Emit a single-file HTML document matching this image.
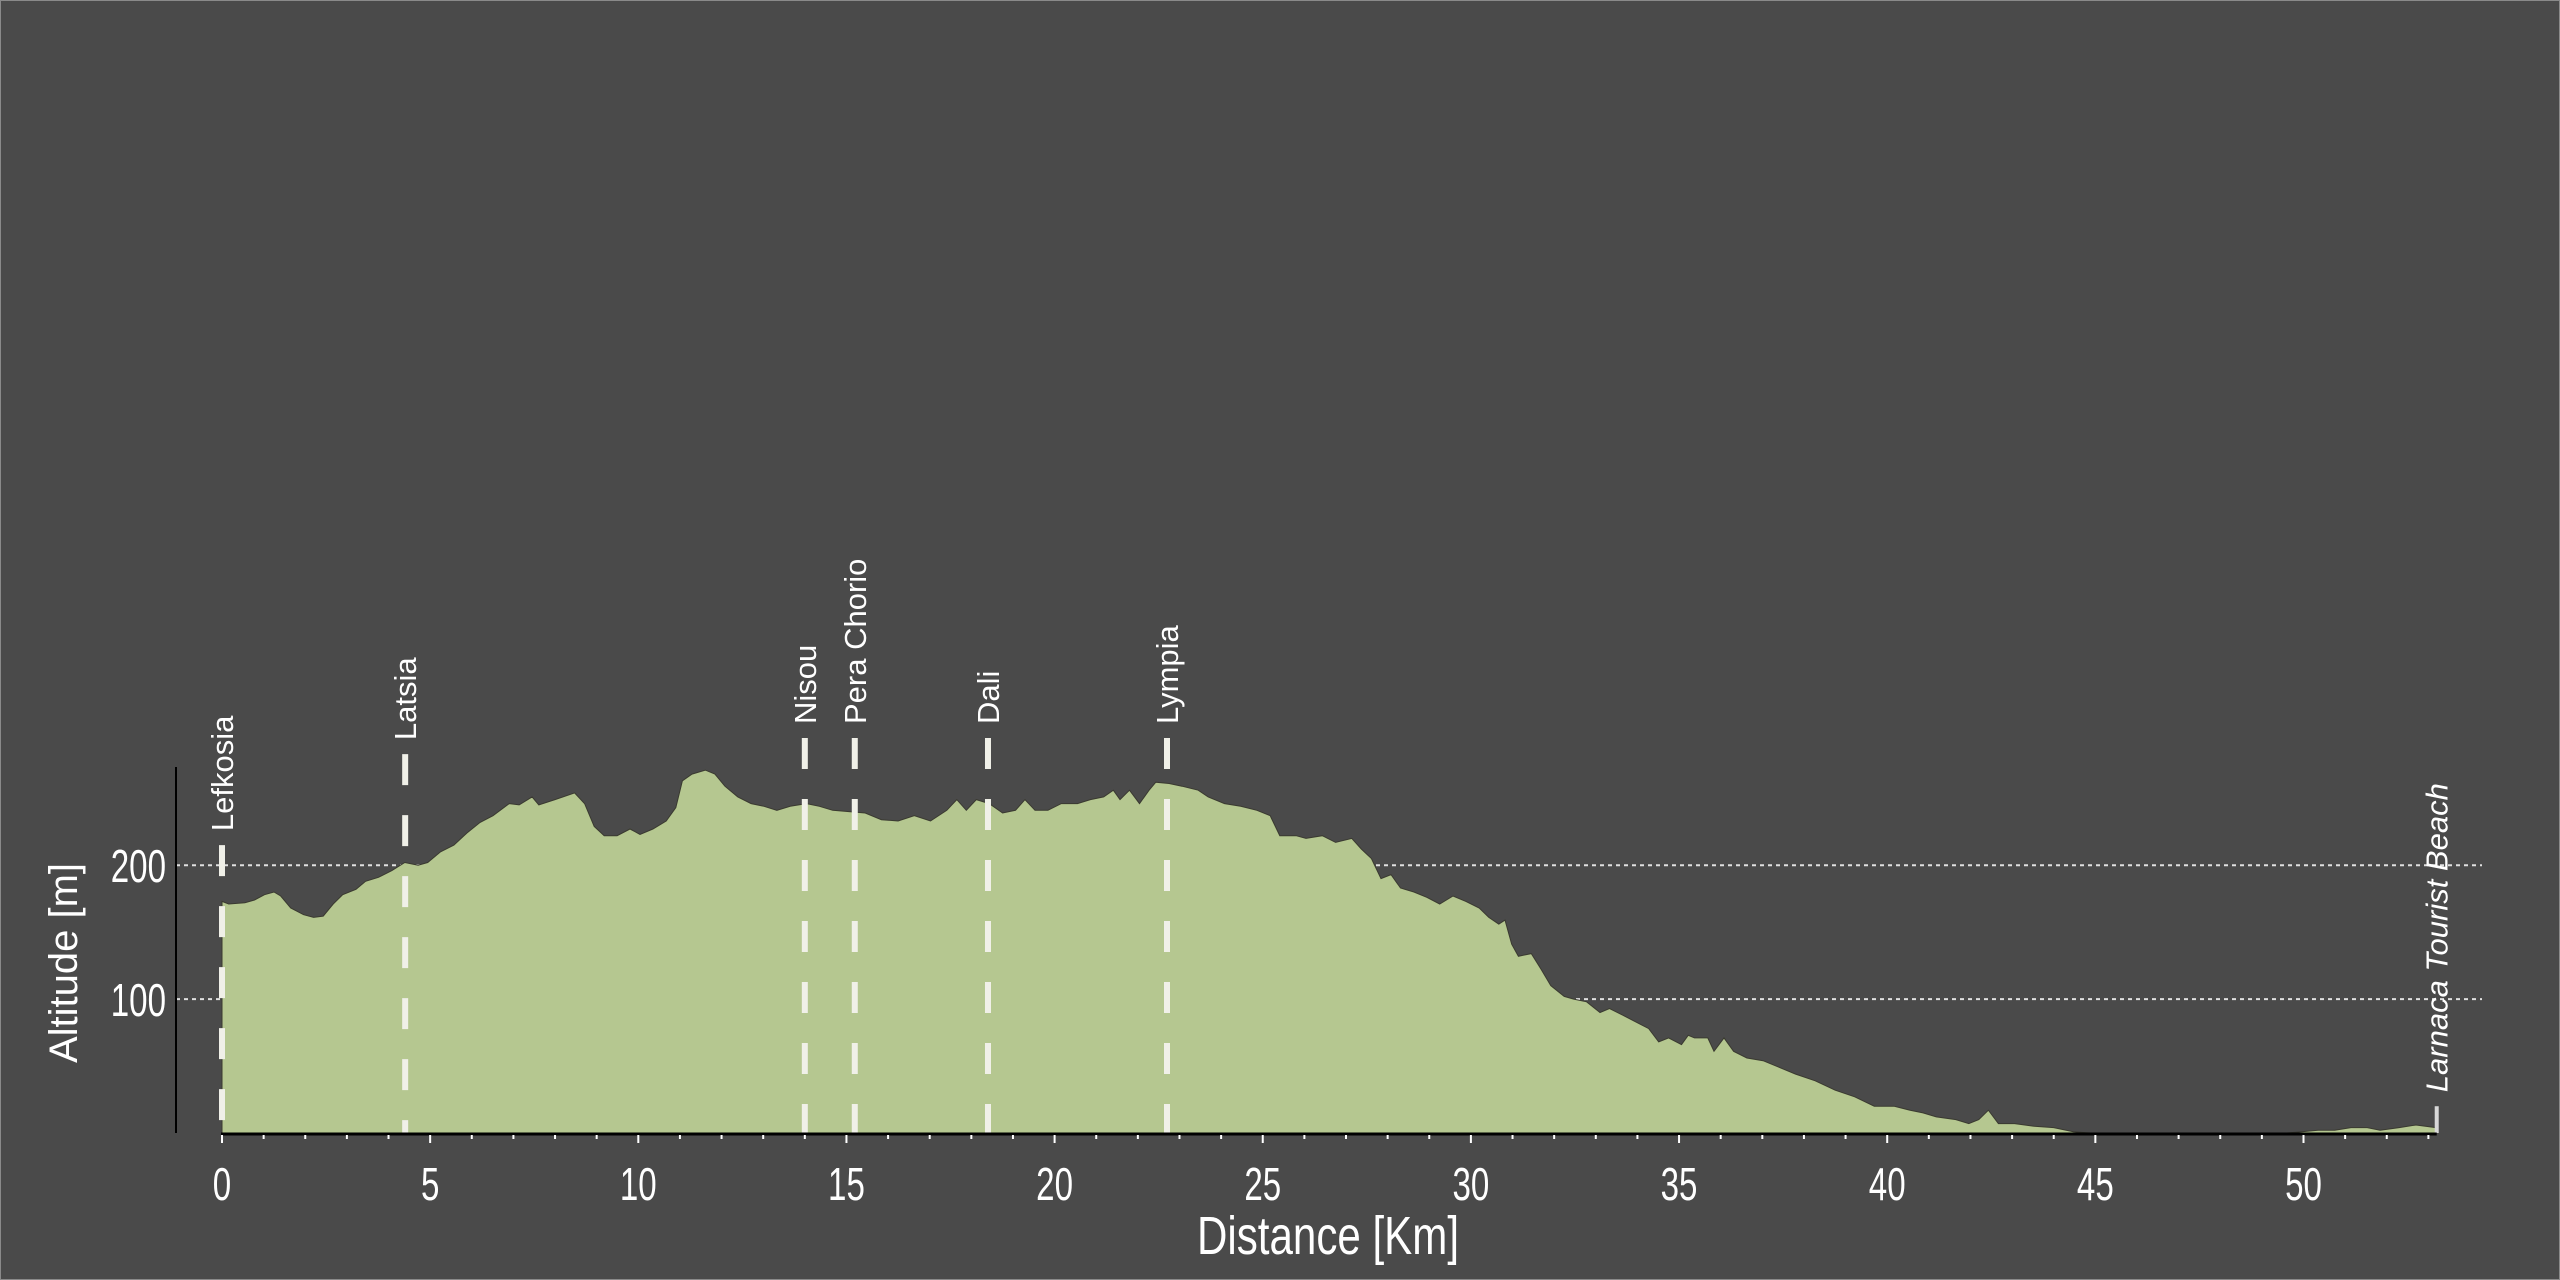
<!DOCTYPE html>
<html><head><meta charset="utf-8">
<style>
html,body{margin:0;padding:0;background:#4a4a4a;}
svg{display:block;font-family:"Liberation Sans",Arial,sans-serif;}
</style></head>
<body>
<svg id="chart" width="2560" height="1280" viewBox="0 0 2560 1280" xmlns="http://www.w3.org/2000/svg">
<rect x="0" y="0" width="2560" height="1280" fill="#4a4a4a" stroke="#8a8a8a" stroke-width="2"/>
<g id="grid"></g>
<g id="area"></g>
<g id="markers"></g>
<g id="axes"></g>
<text transform="translate(77,963) rotate(-90)" text-anchor="middle" font-size="40" fill="#ffffff">Altitude [m]</text>
<text transform="translate(1328,1254) scale(0.78,1)" text-anchor="middle" font-size="54" fill="#ffffff">Distance [Km]</text>
</svg>
<script>
const distKm = [0,0.16,0.55,0.78,1.02,1.25,1.41,1.65,1.96,2.2,2.43,2.67,2.9,3.22,3.45,3.76,4.08,4.39,4.71,4.94,5.25,5.57,5.88,6.2,6.51,6.9,7.14,7.45,7.61,8.0,8.47,8.71,8.94,9.18,9.49,9.8,10.04,10.35,10.67,10.9,11.06,11.29,11.61,11.84,12.08,12.39,12.71,13.02,13.33,13.65,14.04,14.35,14.67,15.06,15.45,15.84,16.24,16.63,17.02,17.41,17.65,17.88,18.12,18.43,18.75,19.06,19.29,19.53,19.84,20.16,20.55,20.86,21.18,21.41,21.57,21.8,22.04,22.27,22.43,22.75,23.06,23.45,23.69,24.08,24.47,24.86,25.18,25.41,25.8,26.04,26.43,26.75,27.14,27.37,27.61,27.84,28.08,28.31,28.63,28.94,29.25,29.57,29.88,30.2,30.43,30.67,30.82,30.98,31.14,31.45,31.69,31.92,32.24,32.47,32.78,33.1,33.33,33.65,33.96,34.27,34.51,34.75,35.06,35.22,35.37,35.69,35.84,36.08,36.31,36.63,37.02,37.41,37.8,38.27,38.75,39.22,39.69,40.16,40.55,40.86,41.18,41.65,41.96,42.2,42.43,42.67,43.06,43.53,44.0,44.47,44.86,47.2,49.6,49.96,50.35,50.75,51.14,51.53,51.84,52.3,52.7,53.18];
const altM = [173,171,172,174,178,180,177,168,163,161,162,171,178,182,188,191,196,202,200,202,210,215,224,232,237,246,245,251,245,249,254,246,229,222,222,227,223,227,233,243,263,268,271,268,259,251,246,244,241,244,246,244,241,240,239,234,233,237,233,241,249,241,249,246,239,241,249,241,241,246,246,249,251,256,249,256,246,256,262,261,259,256,251,246,244,241,237,222,222,220,222,217,220,212,205,190,193,183,180,176,171,177,173,168,161,156,159,141,132,134,122,110,102,100,98,90,93,88,83,78,68,71,66,73,71,71,61,71,61,56,54,49,44,39,32,27,20,20,17,15,12,10,7,10,17,7,7,5,4,1,0,0,0,1,2,2,4,4,2,4,6,4];
const xTicks = [0,5,10,15,20,25,30,35,40,45,50];
const yTicks = [100,200];
const markerNames = ["Lefkosia","Latsia","Nisou","Pera Chorio","Dali","Lympia","Larnaca Tourist Beach"];
const markerKm = [0,4.4,14.0,15.2,18.4,22.7,53.2];
const markerTopAlt = [215,283,295,295,295,295,20];

const NS="http://www.w3.org/2000/svg";
const X0=222, PXKM=41.63, Y0=1133, PXM=1.339;
function xs(k){return X0+k*PXKM;}
function ys(m){return Y0-m*PXM;}
function mk(tag,attrs,parent){const e=document.createElementNS(NS,tag);for(const k in attrs)e.setAttribute(k,attrs[k]);parent.appendChild(e);return e;}

const grid=document.getElementById('grid');
yTicks.forEach(v=>{
  const l=mk('line',{x1:176,x2:2482,y1:ys(v),y2:ys(v),stroke:'#e0e0e0','stroke-width':2,'stroke-dasharray':'4 4'},grid);
  
  
});

const area=document.getElementById('area');
let d='M'+xs(distKm[0])+','+Y0;
for(let i=0;i<distKm.length;i++) d+=' L'+xs(distKm[i]).toFixed(1)+','+ys(altM[i]).toFixed(1);
d+=' L'+xs(distKm[distKm.length-1])+','+Y0+' Z';
const p=mk('path',{d:d,fill:'#b5c790',stroke:'#3a3a30','stroke-width':1},area);



const markers=document.getElementById('markers');
markerNames.forEach((n,i)=>{
  const x=xs(markerKm[i]), top=ys(markerTopAlt[i]);
  const last=i===markerNames.length-1;
  const ln=mk('line',{x1:x,x2:x,y1:top,y2:Y0,stroke:last?'#d8d8d8':'#f0f0e8','stroke-width':last?4:6,'stroke-dasharray':last?'none':'31 30'},markers);
  
  
  const t=mk('text',{transform:'translate('+(x+11)+','+(top-14)+') rotate(-90)','font-size':31,fill:'#ffffff','font-style':last?'italic':'normal'},markers);
  t.textContent=n;
  
  
});

const axes=document.getElementById('axes');
const ya=mk('line',{x1:176,x2:176,y1:767,y2:Y0,stroke:'#000','stroke-width':2},axes);


const xa=mk('line',{x1:X0-1,x2:xs(53.2),y1:Y0+1,y2:Y0+1,stroke:'#000','stroke-width':3},axes);


for(let k=0;k<=53;k++){
  const tk=mk('line',{x1:xs(k),x2:xs(k),y1:Y0+2,y2:Y0+(k%5===0?10:6),stroke:'#ffffff','stroke-width':2},axes);
  
  
}
xTicks.forEach(v=>{
  const t=mk('text',{transform:'translate('+xs(v)+',1200) scale(0.72,1)','text-anchor':'middle','font-size':46,fill:'#ffffff'},axes);
  t.textContent=v;
  
  
});
yTicks.forEach(v=>{
  const t=mk('text',{transform:'translate(166,'+(ys(v)+17)+') scale(0.72,1)','text-anchor':'end','font-size':46,fill:'#ffffff'},axes);
  t.textContent=v;
  
  
});
</script>
</body></html>
